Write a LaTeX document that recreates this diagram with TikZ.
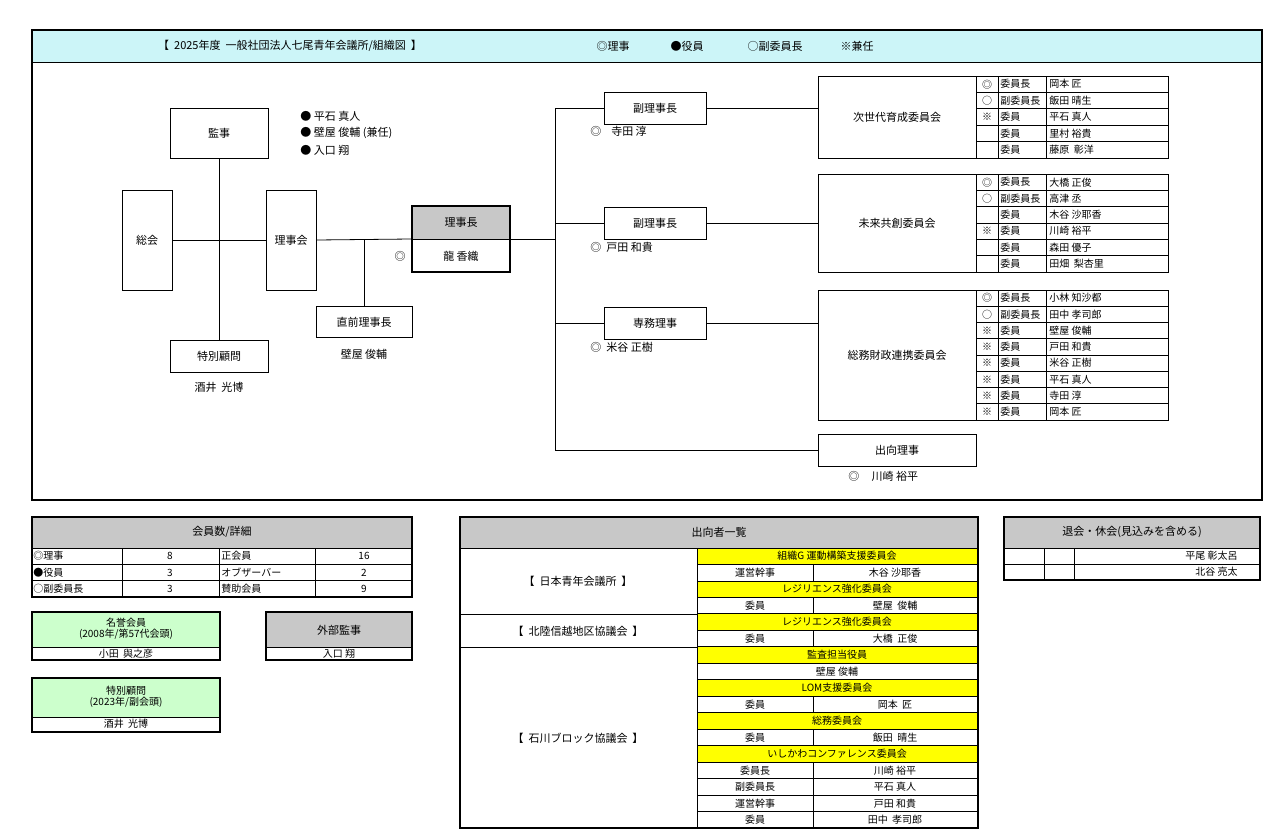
\documentclass[tikz,border=0pt]{standalone}
\usepackage{fontspec}
\setmainfont{Noto Sans CJK JP}
\usepackage{tikz}
\definecolor{hdcyan}{HTML}{CCF5F8}
\definecolor{hdgray}{HTML}{C8C8C8}
\definecolor{hdgreen}{HTML}{CCFFCC}
\definecolor{hdyellow}{HTML}{FFFF00}
\tikzset{
  box/.style={draw,line width=1pt,fill=white,inner sep=1pt,font=\fontsize{11}{12}\selectfont},
  lbl/.style={inner sep=0pt,font=\fontsize{11}{12}\selectfont},
  cell/.style={inner sep=0pt,font=\fontsize{10}{11}\selectfont},
}

\begin{document}
\begin{tikzpicture}[x=1pt,y=-1pt,line width=0.8pt]
  \useasboundingbox (0,0) rectangle (1280,838);
  % top frame
  \fill[hdcyan] (32,30) rectangle (1262,62);
  \draw[line width=1.6pt] (32,30) rectangle (1262,500);
  \draw[line width=1pt] (32,62) -- (1262,62);
  \node[lbl] (title) at (290,46) {【\ \ 2025年度\ \ 一般社団法人七尾青年会議所/組織図\ \ 】};
  \node[lbl] (kRiji)   at (613,46) {◎理事};
  \node[lbl] (kYakuin) at (687,46) {●役員};
  \node[lbl] (kFuku)   at (775,46) {○副委員長};
  \node[lbl] (kKennin) at (857,46) {※兼任};

  % left side
  \node[box,minimum width=98,minimum height=50] (kanji) at (219,133) {監事};
  \node[box,minimum width=50,minimum height=100] (soukai) at (147,240) {総会};
  \node[box,minimum width=50,minimum height=100] (rijikai) at (291,240) {理事会};
  \node[box,minimum width=98,minimum height=32] (tokubetsu) at (219,356) {特別顧問};
  \node[lbl] (sakai) at (219,387) {酒井\ \ 光博};
  \node[box,minimum width=96,minimum height=31] (chokuzen) at (364,322) {直前理事長};
  \node[lbl] (kabeya) at (364,354) {壁屋 俊輔};
  \node[lbl,anchor=west] (yk1) at (300,116) {●\ 平石 真人};
  \node[lbl,anchor=west] (yk2) at (300,133) {●\ 壁屋 俊輔 (兼任)};
  \node[lbl,anchor=west] (yk3) at (300,150) {●\ 入口 翔};

  % president
  \fill[hdgray] (412,206) rectangle (510,239);
  \node[draw,line width=2pt,minimum width=98,minimum height=66,inner sep=0pt] (rijicho) at (461,239) {};
  \draw[line width=1pt] (rijicho.west) -- (rijicho.east);
  \node[lbl] (rijichoT) at (461,222) {理事長};
  \node[lbl] (rijichoN) at (461,256) {龍 香織};
  \node[lbl] (rijichoM) at (400,256) {◎};

  \draw (soukai.east) -- (rijikai.west);
  \draw (kanji.south) -- (tokubetsu.north);
  \draw (rijikai.east) -- (rijicho.west);
  \draw (chokuzen.north |- rijikai.east) -- (chokuzen.north);

  % right side
  \coordinate (trunkT) at (555,108);
  \coordinate (trunkB) at (555,450);
  \node[box,minimum width=102,minimum height=32] (fuku1) at (655,108) {副理事長};
  \node[box,minimum width=102,minimum height=32] (fuku2) at (655,223) {副理事長};
  \node[box,minimum width=102,minimum height=32] (senmu) at (655,323) {専務理事};
  \node[box,minimum width=158,minimum height=32] (shukko) at (897,450) {出向理事};
  \node[lbl,anchor=west] (f1n) at (590,131) {◎\ \ \ \ 寺田 淳};
  \node[lbl,anchor=west] (f2n) at (590,247) {◎\ \ 戸田 和貴};
  \node[lbl,anchor=west] (smn) at (590,347) {◎\ \ 米谷 正樹};
  \node[lbl,anchor=west] (skn) at (848,476) {◎\ \ \ \ \ 川崎 裕平};
  \node[box,minimum width=158,minimum height=82] (c1) at (897,117) {次世代育成委員会};
  \node[box,minimum width=158,minimum height=98] (c2) at (897,223) {未来共創委員会};
  \node[box,minimum width=158,minimum height=130] (c3) at (897,355) {総務財政連携委員会};

  \draw (rijicho.east) -- (rijicho.east -| trunkT);
  \draw (trunkT) -- (fuku1.west);
  \draw (trunkT) -- (trunkB) -- (shukko.west);
  \draw (fuku2.west -| trunkT) -- (fuku2.west);
  \draw (senmu.west -| trunkT) -- (senmu.west);
  \draw (fuku1.east) -- (fuku1.east -| c1.west);
  \draw (fuku2.east) -- (fuku2.east -| c2.west);
  \draw (senmu.east) -- (senmu.east -| c3.west);

  % committee members
  \foreach \m/\r/\n [count=\i] in {◎/委員長/岡本 匠,○/副委員長/飯田 晴生,※/委員/平石 真人,{}/委員/里村 裕貴,{}/委員/藤原\ \ 彰洋}{
    \pgfmathsetmacro\yy{76+(\i-1)*16.4}
    \draw (976,\yy) rectangle (1168,\yy+16.4) (998,\yy) -- (998,\yy+16.4) (1046,\yy) -- (1046,\yy+16.4);
    \node[cell] at (987,\yy+8.2) {\m};
    \node[cell,anchor=west] at (1000,\yy+8.2) {\r};
    \node[cell,anchor=west] at (1049,\yy+8.2) {\n};
  }
  \foreach \m/\r/\n [count=\i] in {◎/委員長/大橋 正俊,○/副委員長/高津 丞,{}/委員/木谷 沙耶香,※/委員/川崎 裕平,{}/委員/森田 優子,{}/委員/田畑\ \ 梨杏里}{
    \pgfmathsetmacro\yy{174+(\i-1)*16.33}
    \draw (976,\yy) rectangle (1168,\yy+16.33) (998,\yy) -- (998,\yy+16.33) (1046,\yy) -- (1046,\yy+16.33);
    \node[cell] at (987,\yy+8.2) {\m};
    \node[cell,anchor=west] at (1000,\yy+8.2) {\r};
    \node[cell,anchor=west] at (1049,\yy+8.2) {\n};
  }
  \foreach \m/\r/\n [count=\i] in {◎/委員長/小林 知沙都,○/副委員長/田中 孝司郎,※/委員/壁屋 俊輔,※/委員/戸田 和貴,※/委員/米谷 正樹,※/委員/平石 真人,※/委員/寺田 淳,※/委員/岡本 匠}{
    \pgfmathsetmacro\yy{290+(\i-1)*16.25}
    \draw (976,\yy) rectangle (1168,\yy+16.25) (998,\yy) -- (998,\yy+16.25) (1046,\yy) -- (1046,\yy+16.25);
    \node[cell] at (987,\yy+8.1) {\m};
    \node[cell,anchor=west] at (1000,\yy+8.1) {\r};
    \node[cell,anchor=west] at (1049,\yy+8.1) {\n};
  }

  % member counts
  \fill[hdgray] (32,517) rectangle (412,548);
  \node[lbl] (kaiin) at (222,532) {会員数/詳細};
  \foreach \a/\b/\c/\d [count=\i] in {◎理事/8/正会員/16,●役員/3/オブザーバー/2,○副委員長/3/賛助会員/9}{
    \pgfmathsetmacro\yy{548+(\i-1)*16.3}
    \draw (32,\yy) rectangle (412,\yy+16.3) (122,\yy) -- (122,\yy+16.3) (219,\yy) -- (219,\yy+16.3) (315,\yy) -- (315,\yy+16.3);
    \node[cell,anchor=west] at (33,\yy+8.2) {\a};
    \node[cell] at (170,\yy+8.2) {\b};
    \node[cell,anchor=west] at (221,\yy+8.2) {\c};
    \node[cell] at (364,\yy+8.2) {\d};
  }
  \draw[line width=1.6pt] (32,517) rectangle (412,597);
  \draw (32,548) -- (412,548);

  % honorary members
  \fill[hdgreen] (32,612) rectangle (220,647);
  \draw (32,647) -- (220,647);
  \draw[line width=1.6pt] (32,612) rectangle (220,660);
  \node[cell,align=center] (meiyo) at (126,629) {名誉会員\\(2008年/第57代会頭)};
  \node[cell] (oda) at (126,654) {小田\ \ 與之彦};
  \fill[hdgray] (266,612) rectangle (412,647);
  \draw (266,647) -- (412,647);
  \draw[line width=1.6pt] (266,612) rectangle (412,660);
  \node[lbl] (gaibu) at (339,630) {外部監事};
  \node[cell] (iriguchi) at (339,654) {入口 翔};
  \fill[hdgreen] (32,678) rectangle (220,717);
  \draw (32,717) -- (220,717);
  \draw[line width=1.6pt] (32,678) rectangle (220,732);
  \node[cell,align=center] (tokubetsu2) at (126,697) {特別顧問\\(2023年/副会頭)};
  \node[cell] (sakai2) at (126,724) {酒井\ \ 光博};

  % secondments
  \fill[hdgray] (460,517) rectangle (978,548);
  \node[lbl] (shukkoList) at (719,532) {出向者一覧};
  \foreach \k/\l/\r [count=\i] in {
      y/組織G 運動構築支援委員会/,n/運営幹事/木谷 沙耶香,y/レジリエンス強化委員会/,n/委員/壁屋\ \ 俊輔,
      y/レジリエンス強化委員会/,n/委員/大橋\ \ 正俊,
      y/監査担当役員/,c/壁屋 俊輔/,y/LOM支援委員会/,n/委員/岡本\ \ 匠,y/総務委員会/,n/委員/飯田\ \ 晴生,
      y/いしかわコンファレンス委員会/,n/委員長/川崎 裕平,n/副委員長/平石 真人,n/運営幹事/戸田 和貴,n/委員/田中\ \ 孝司郎}{
    \pgfmathsetmacro\yy{548+(\i-1)*16.47}
    \if\k y
      \fill[hdyellow] (697,\yy) rectangle (978,\yy+16.47);
      \node[cell] at (837,\yy+8.2) {\l};
    \else\if\k c
      \node[cell] at (837,\yy+8.2) {\l};
    \else
      \draw (813,\yy) -- (813,\yy+16.47);
      \node[cell] at (755,\yy+8.2) {\l};
      \node[cell] at (895,\yy+8.2) {\r};
    \fi\fi
    \draw (697,\yy) rectangle (978,\yy+16.47);
  }
  \draw (460,548) -- (978,548) (460,614) -- (697,614) (460,647) -- (697,647);
  \draw[line width=1.6pt] (460,517) rectangle (978,828);
  \node[lbl] (nihon) at (578,581) {【\ \ 日本青年会議所\ \ 】};
  \node[lbl] (hokuriku) at (578,631) {【\ \ 北陸信越地区協議会\ \ 】};
  \node[lbl] (ishikawa) at (578,738) {【\ \ 石川ブロック協議会\ \ 】};

  % withdrawals
  \fill[hdgray] (1004,517) rectangle (1260,548);
  \node[lbl] (taikai) at (1132,532) {退会・休会(見込みを含める)};
  \foreach \n [count=\i] in {平尾 彰太呂,北谷 亮太}{
    \pgfmathsetmacro\yy{548+(\i-1)*16}
    \draw (1004,\yy) -- (1260,\yy) (1044,\yy) -- (1044,\yy+16) (1074,\yy) -- (1074,\yy+16);
    \node[cell,anchor=east] at (1238,\yy+8) {\n};
  }
  \draw[line width=1.6pt] (1004,517) rectangle (1260,580);
\end{tikzpicture}
\end{document}
